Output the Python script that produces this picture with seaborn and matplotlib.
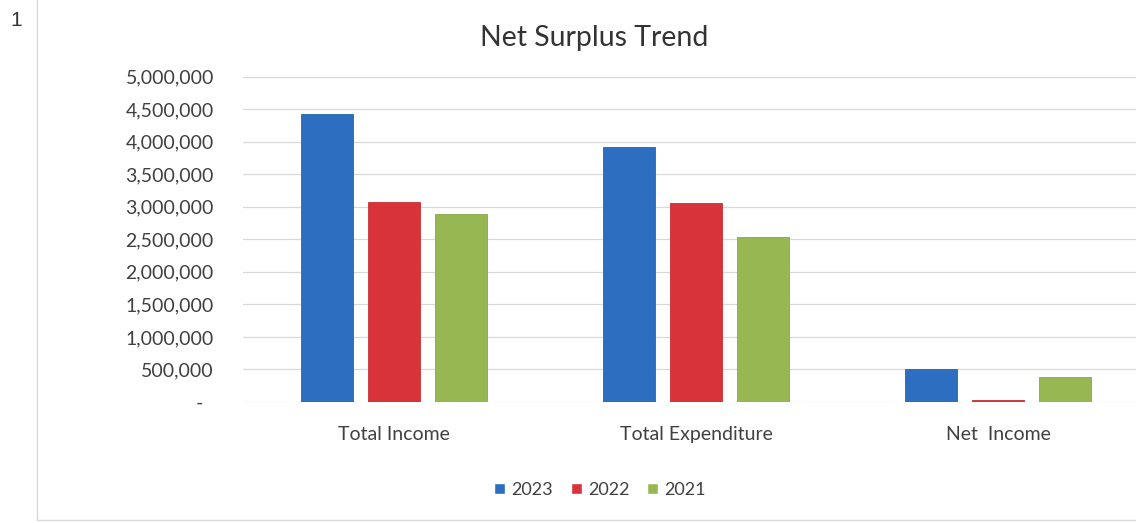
import matplotlib
matplotlib.use("Agg")
import matplotlib.pyplot as plt
from matplotlib.lines import Line2D
from matplotlib.ticker import FuncFormatter, MultipleLocator
import pandas as pd
import seaborn as sns

# Figures for the three reporting years
categories = ["Total Income", "Total Expenditure", "Net  Income"]
years = ["2023", "2022", "2021"]
values_2023 = [4420000, 3910000, 510000]
values_2022 = [3070000, 3050000, 25000]
values_2021 = [2890000, 2530000, 380000]
colors = ["#2E6EC0", "#D8323A", "#97B752"]
edge_colors = ["#2A64B0", "#C92E35", "#88A64A"]

rows = []
for year, vals in zip(years, [values_2023, values_2022, values_2021]):
    for cat, v in zip(categories, vals):
        rows.append({"category": cat, "year": year, "value": v})
df = pd.DataFrame(rows)

sns.set_theme(style="white")
plt.rcParams["font.family"] = ["Lato", "DejaVu Sans"]

W, H = 1136, 523
fig = plt.figure(figsize=(W / 100, H / 100), dpi=100)
ax = fig.add_axes([243 / W, (H - 402) / H, 906 / W, 325.5 / H])

sns.barplot(
    data=df, x="category", y="value", hue="year",
    order=categories, hue_order=years, palette=colors,
    width=0.668, gap=0.23, errorbar=None, ax=ax, legend=True,
    saturation=1,
)

# slightly darker outline per series
for cont, ec in zip(ax.containers, edge_colors):
    for bar in cont:
        bar.set_edgecolor(ec)
        bar.set_linewidth(0.6)

ax.set_ylim(0, 5000000)
ax.set_xlim(-0.5, 2.5)
ax.yaxis.set_major_locator(MultipleLocator(500000))
ax.yaxis.set_major_formatter(
    FuncFormatter(lambda v, p: f"{v:,.0f}" if v > 0 else "-  ")
)
ax.set_xlabel("")
ax.set_ylabel("")
for s in ax.spines.values():
    s.set_visible(False)
ax.yaxis.grid(True, color="#D9D9D9", linewidth=0.9)
ax.set_axisbelow(True)
ax.tick_params(axis="y", length=0, pad=21, labelsize=14, labelcolor="#404040")
ax.tick_params(axis="x", length=0, pad=17, labelsize=14, labelcolor="#404040")

sns.move_legend(
    ax, loc="center", bbox_to_anchor=((600 - 243) / 906, (402 - 490) / 325.5),
    ncol=3, frameon=False, title=None, fontsize=13,
    handlelength=0.6, handleheight=0.6, handletextpad=0.35,
    columnspacing=1.0,
)
for t in ax.get_legend().get_texts():
    t.set_color("#404040")

fig.text(594 / W, 1 - 38 / H, "Net Surplus Trend", ha="center", va="center",
         fontsize=20.5, color="#333333")

# page number and sheet frame around the chart
fig.text(10 / W, 1 - 20 / H, "1", ha="left", va="center", fontsize=15,
         color="#333333", family="Liberation Sans")
fig.add_artist(Line2D([37 / W, 37 / W], [1, 1 - 520 / H],
                      transform=fig.transFigure, color="#DADADA", lw=1))
fig.add_artist(Line2D([37 / W, 1], [1 - 520 / H, 1 - 520 / H],
                      transform=fig.transFigure, color="#DADADA", lw=1))

fig.savefig("out.png", dpi=100)
